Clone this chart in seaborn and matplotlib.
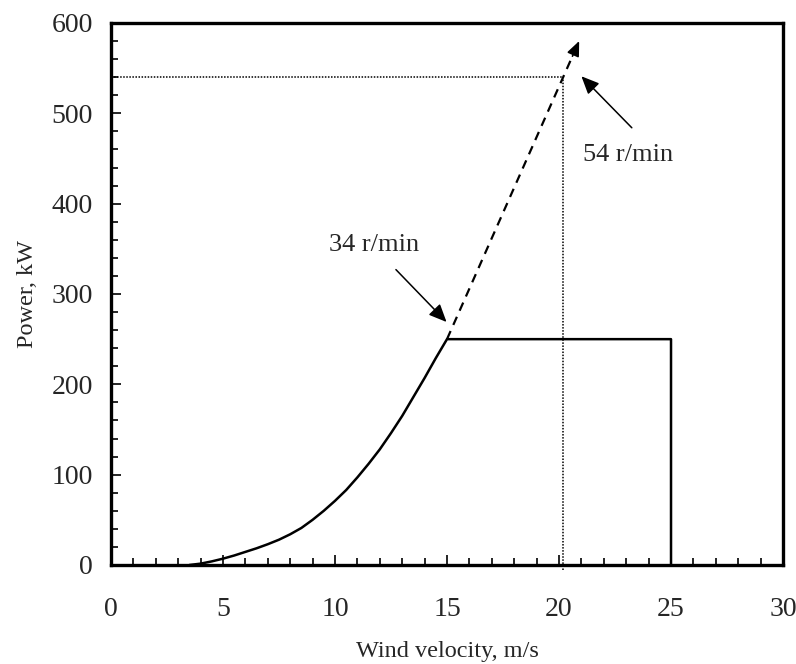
import matplotlib
matplotlib.use("Agg")
import matplotlib.pyplot as plt
import seaborn as sns
import pandas as pd
from matplotlib.ticker import MultipleLocator

# Data
velocity = [3.5, 4, 4.5, 5, 5.5, 6, 6.5, 7, 7.5, 8, 8.5, 9, 9.5, 10, 10.5, 11, 11.5,
            12, 12.5, 13, 13.5, 14, 14.5, 15, 25, 25]
power = [0, 1.5, 4, 7, 10.5, 14.5, 18.5, 23, 28, 34, 41, 50, 60, 71, 83, 97, 112,
         128, 146, 165, 186, 207, 229, 250, 250, 0]
ext_velocity = [15, 20.9]
ext_power = [250, 580]
ref_velocity = 20.2
ref_power = 540
x_ticks = [0, 5, 10, 15, 20, 25, 30]
y_ticks = [0, 100, 200, 300, 400, 500, 600]

sns.set_theme(style="white")
plt.rcParams['font.family'] = ['Liberation Serif', 'DejaVu Serif']

fig = plt.figure(figsize=(7.96, 6.64), dpi=100)
ax = fig.add_axes([0.1394, 0.1491, 0.8443, 0.8163])

df = pd.DataFrame({"v": velocity, "p": power})
sns.lineplot(data=df, x="v", y="p", ax=ax, sort=False, estimator=None,
             color="black", linewidth=1.8)

dfe = pd.DataFrame({"v": ext_velocity, "p": ext_power})
sns.lineplot(data=dfe, x="v", y="p", ax=ax, sort=False, estimator=None,
             color="black", linewidth=1.6, linestyle=(0, (4, 3)))
# arrow head at end of dashed line
slope = (ext_power[1] - ext_power[0]) / (ext_velocity[1] - ext_velocity[0])
ax.annotate("", xy=(ext_velocity[1], ext_power[1]),
            xytext=(ext_velocity[1] - 0.3, ext_power[1] - 0.3 * slope),
            arrowprops=dict(arrowstyle="-|>,head_length=0.75,head_width=0.32", color="black", lw=1.2,
                            shrinkA=0, shrinkB=0))

# dotted reference lines
ax.plot([0, ref_velocity], [ref_power, ref_power], color="black", linestyle=(0, (1, 1)), linewidth=1.1)
ax.plot([ref_velocity, ref_velocity], [-5, ref_power], color="black", linestyle=(0, (1, 1)),
        linewidth=1.1, clip_on=False)

# annotations
ax.annotate("", xy=(14.98, 269), xytext=(12.72, 327),
            arrowprops=dict(arrowstyle="-|>,head_length=0.9,head_width=0.4", color="black", lw=1.1,
                            shrinkA=0, shrinkB=0))
ax.text(11.74, 354, "34 r/min", fontsize=19, ha="center", va="center")
ax.annotate("", xy=(21.0, 541), xytext=(23.25, 484),
            arrowprops=dict(arrowstyle="-|>,head_length=0.9,head_width=0.4", color="black", lw=1.1,
                            shrinkA=0, shrinkB=0))
ax.text(23.1, 454, "54 r/min", fontsize=19, ha="center", va="center")

ax.set_xlim(0, 30)
ax.set_ylim(0, 600)
ax.set_xticks(x_ticks)
ax.set_yticks(y_ticks)
ax.xaxis.set_minor_locator(MultipleLocator(1))
ax.yaxis.set_minor_locator(MultipleLocator(20))
ax.tick_params(axis="both", which="both", direction="in", color="black", width=1.2,
               top=False, right=False, bottom=True, left=True)
ax.tick_params(axis="both", which="major", length=7, labelsize=20)
ax.tick_params(axis="both", which="minor", length=5)
ax.tick_params(axis="x", which="major", pad=23)
ax.tick_params(axis="y", which="major", pad=13)

for s in ax.spines.values():
    s.set_linewidth(2.4)
    s.set_color("black")

ax.set_xlabel("Wind velocity, m/s", fontsize=17.5, labelpad=14)
ax.set_ylabel("Power, kW", fontsize=17.5, labelpad=10)

fig.savefig("out.png", dpi=100)
